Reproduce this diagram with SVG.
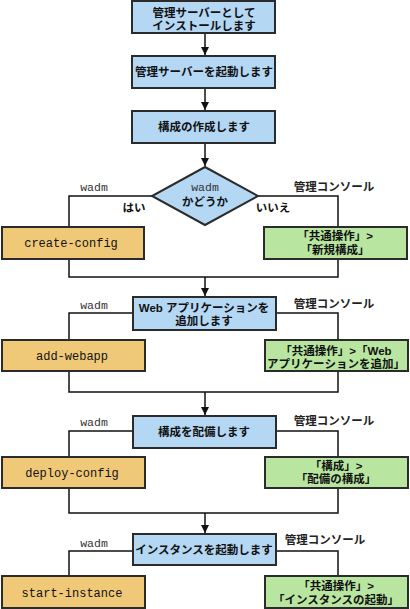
<svg xmlns="http://www.w3.org/2000/svg" width="410" height="609" viewBox="0 0 410 609">
<defs>
<style>
.step{fill:#b4d7f4;stroke:#2b2b2b;stroke-width:2}
.cli{fill:#f0c978;stroke:#2b2b2b;stroke-width:2}
.gui{fill:#b8e6a0;stroke:#2b2b2b;stroke-width:2}
.jt{font-family:"Liberation Sans","Noto Sans CJK JP",sans-serif;font-size:11.5px;font-weight:bold;fill:#111;text-anchor:middle}
.mt{font-family:"Liberation Mono","Noto Sans CJK JP",monospace;font-size:12px;fill:#111;text-anchor:middle}
.lbl{font-family:"Liberation Mono",monospace;font-size:11.5px;fill:#333;text-anchor:middle}
.jl{font-family:"Liberation Sans","Noto Sans CJK JP",sans-serif;font-size:11.5px;font-weight:bold;fill:#222;text-anchor:middle}
.ln{fill:none;stroke:#111;stroke-width:1.5}
</style>
<marker id="ah" viewBox="0 0 10 10" refX="10" refY="5" markerWidth="8" markerHeight="8" markerUnits="userSpaceOnUse" orient="auto">
<path d="M0,0 L10,5 L0,10 z" fill="#111"/>
</marker>
</defs>

<g id="connectors">
<line class="ln" x1="205" y1="33" x2="205" y2="55" marker-end="url(#ah)"/>
<line class="ln" x1="205" y1="88" x2="205" y2="110" marker-end="url(#ah)"/>
<line class="ln" x1="205" y1="143" x2="205" y2="166" marker-end="url(#ah)"/>
<polyline class="ln" points="152,196 69,196 69,227"/>
<polyline class="ln" points="258,196 338,196 338,227"/>
<polyline class="ln" points="69,259 69,277 338,277 338,259"/>
<line class="ln" x1="205" y1="277" x2="205" y2="296" marker-end="url(#ah)"/>
<polyline class="ln" points="133,313 69,313 69,340"/>
<polyline class="ln" points="276,313 338,313 338,340"/>
<polyline class="ln" points="69,371 69,392 338,392 338,371"/>
<line class="ln" x1="205" y1="392" x2="205" y2="415" marker-end="url(#ah)"/>
<polyline class="ln" points="133,431 69,431 69,457"/>
<polyline class="ln" points="276,431 338,431 338,457"/>
<polyline class="ln" points="69,488 69,513 338,513 338,488"/>
<line class="ln" x1="205" y1="513" x2="205" y2="533" marker-end="url(#ah)"/>
<polyline class="ln" points="133,551 69,551 69,576"/>
<polyline class="ln" points="276,551 338,551 338,576"/>
</g>

<g id="install">
<rect class="step" x="132" y="1" width="143" height="32"/>
<text class="jt" x="204" y="16.5">管理サーバーとして</text>
<text class="jt" x="204" y="29.5">インストールします</text>
</g>
<g id="start-admin">
<rect class="step" x="132" y="56" width="143" height="32"/>
<text class="jt" x="204" y="76">管理サーバーを起動します</text>
</g>
<g id="create">
<rect class="step" x="132" y="111" width="143" height="32"/>
<text class="jt" x="204" y="131">構成の作成します</text>
</g>
<g id="decision">
<polygon class="step" points="205,167 258,196 205,225 152,196"/>
<text class="lbl" x="205" y="191">wadm</text>
<text class="jt" x="205" y="205.5">かどうか</text>
</g>
<g id="labels1">
<text class="lbl" x="94" y="191">wadm</text>
<text class="jl" x="334" y="190.5">管理コンソール</text>
<text class="jt" x="134" y="211.5">はい</text>
<text class="jt" x="273" y="211.5">いいえ</text>
</g>
<g id="create-config">
<rect class="cli" x="2" y="227" width="142" height="32"/>
<text class="mt" x="71" y="247">create-config</text>
</g>
<g id="gui-create">
<rect class="gui" x="264" y="227" width="143" height="32"/>
<text class="jt" x="335" y="240">「共通操作」&gt;</text>
<text class="jt" x="335" y="254">「新規構成」</text>
</g>

<g id="add-app">
<rect class="step" x="133" y="297" width="143" height="33"/>
<text class="jt" x="204" y="311.5">Web アプリケーションを</text>
<text class="jt" x="204" y="324.5">追加します</text>
</g>
<g id="labels2">
<text class="lbl" x="94" y="309">wadm</text>
<text class="jl" x="334" y="307.5">管理コンソール</text>
</g>
<g id="add-webapp">
<rect class="cli" x="2" y="340" width="143" height="31"/>
<text class="mt" x="72" y="360">add-webapp</text>
</g>
<g id="gui-add">
<rect class="gui" x="265" y="340" width="143" height="31"/>
<text class="jt" x="336" y="355">「共通操作」&gt;「Web</text>
<text class="jt" x="336" y="368">アプリケーションを追加」</text>
</g>

<g id="deploy">
<rect class="step" x="133" y="416" width="143" height="32"/>
<text class="jt" x="204" y="436">構成を配備します</text>
</g>
<g id="labels3">
<text class="lbl" x="94" y="426">wadm</text>
<text class="jl" x="334" y="424.5">管理コンソール</text>
</g>
<g id="deploy-config">
<rect class="cli" x="2" y="457" width="143" height="31"/>
<text class="mt" x="72" y="477">deploy-config</text>
</g>
<g id="gui-deploy">
<rect class="gui" x="265" y="457" width="143" height="31"/>
<text class="jt" x="336" y="470">「構成」&gt;</text>
<text class="jt" x="336" y="483">「配備の構成」</text>
</g>

<g id="start-inst">
<rect class="step" x="133" y="534" width="143" height="31"/>
<text class="jt" x="204" y="553.5">インスタンスを起動します</text>
</g>
<g id="labels4">
<text class="lbl" x="94" y="547">wadm</text>
<text class="jl" x="325" y="543.5">管理コンソール</text>
</g>
<g id="start-instance">
<rect class="cli" x="2" y="576" width="143" height="32"/>
<text class="mt" x="72" y="597">start-instance</text>
</g>
<g id="gui-start">
<rect class="gui" x="265" y="576" width="143" height="32"/>
<text class="jt" x="336" y="589.5">「共通操作」&gt;</text>
<text class="jt" x="336" y="604">「インスタンスの起動」</text>
</g>
</svg>
